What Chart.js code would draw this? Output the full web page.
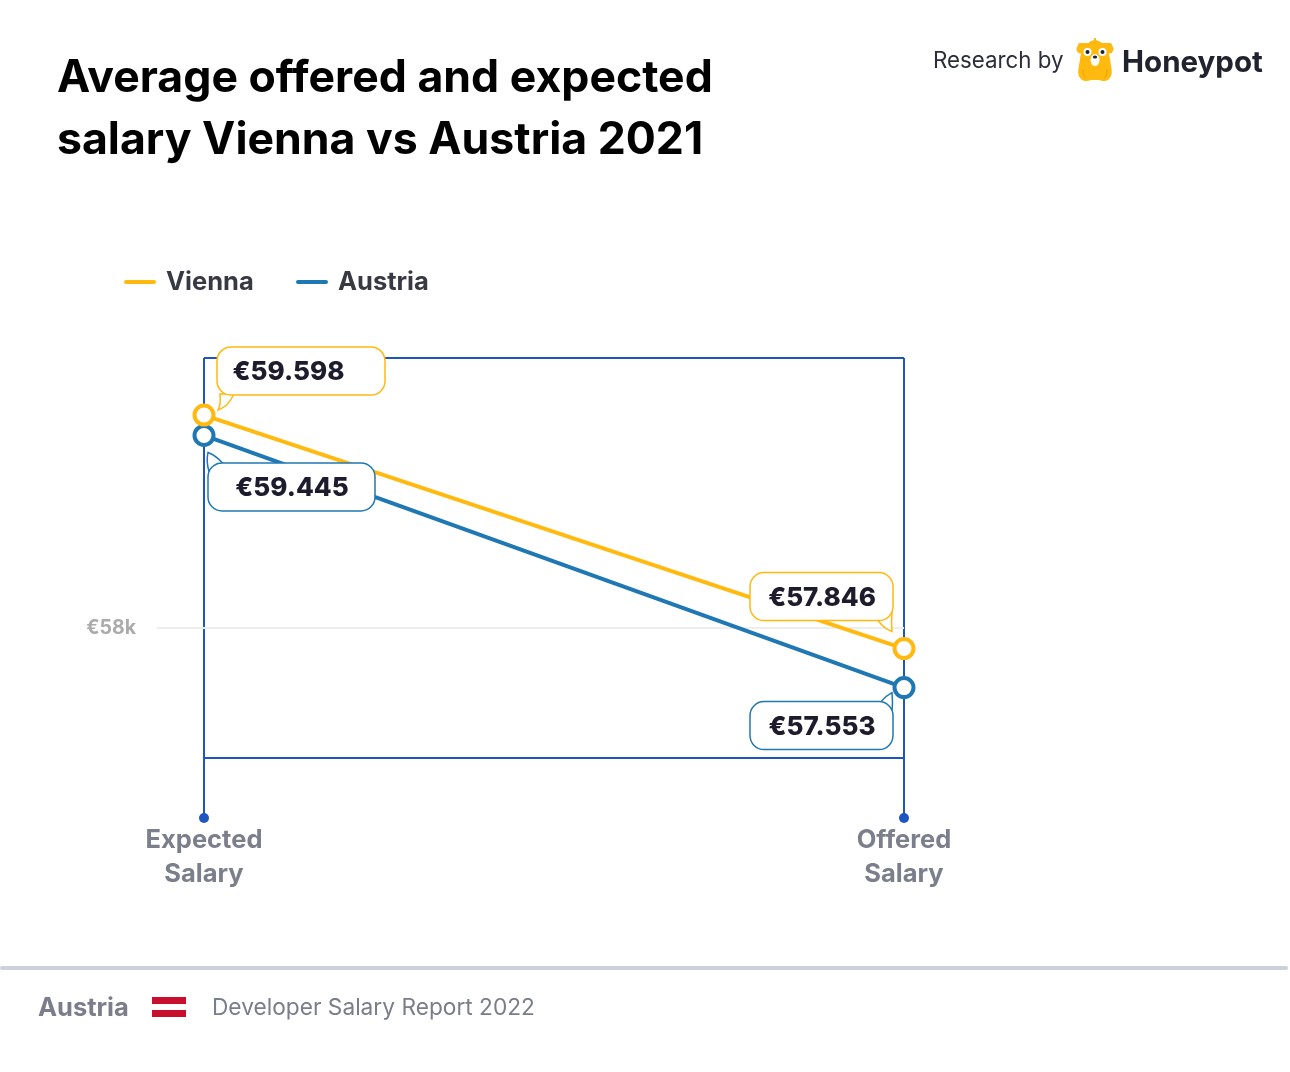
<!DOCTYPE html>
<html>
<head>
<meta charset="utf-8">
<title>Average offered and expected salary Vienna vs Austria 2021</title>
<script src="https://cdn.jsdelivr.net/npm/chart.js@4"></script>
<style>
  html, body { margin: 0; padding: 0; background: #fff; overflow: hidden; }
  body { width: 1290px; height: 1072px; position: relative; font-family: Inter, sans-serif; }
  #priceChart { position: absolute; left: 0; top: 0; }
  .abs { position: absolute; white-space: nowrap; }
  #title { left: 57px; top: 45px; font: 700 44.6px/62px Inter, sans-serif; color: #000; }
  #research { left: 933px; top: 45px; font: 400 22.3px/30px Inter, sans-serif; color: #2b2d38; }
  #brand { left: 1122px; top: 41px; font: 700 29.5px/40px Inter, sans-serif; color: #20222e; }
  #bear { left: 1076px; top: 37px; }
  .legend-line { position: absolute; top: 280px; width: 32px; height: 4px; border-radius: 2px; }
  .legend-text { position: absolute; top: 264px; font: 700 25.5px/34px Inter, sans-serif; color: #373a42; }
  #rule { left: 0; top: 966px; width: 1288px; height: 4px; background: #ccd1dc; border-radius: 2px; }
  #country { left: 38px; top: 990px; font: 700 25.5px/34px Inter, sans-serif; color: #7a7d8a; }
  #flag { left: 152px; top: 997px; width: 34px; height: 20px; background: linear-gradient(#c8102e 0 7px, #fff 7px 13px, #c8102e 13px 20px); }
  #report { left: 212px; top: 992px; font: 400 22.7px/30px Inter, sans-serif; color: #7a7d8a; }
</style>
</head>
<body>
<canvas id="priceChart" width="1290" height="1072"></canvas>

<div class="abs" id="title">Average offered and expected<br>salary Vienna vs Austria 2021</div>
<div class="abs" id="research">Research by</div>
<svg class="abs" id="bear" width="38" height="46" viewBox="0 0 38 46">
  <path d="M18 1 h2 v2 l5 2 v2 h-12 v-2 l5 -2 z" fill="#ffb90f"/>
  <rect x="2" y="6" width="34" height="4" rx="2" fill="#ffb90f"/>
  <circle cx="5" cy="12" r="4.5" fill="#ffb90f"/>
  <circle cx="33" cy="12" r="4.5" fill="#ffb90f"/>
  <path d="M19 7 C29 7 33 13 34 22 C35 31 38 37 33 42 C30 45 26 44 23 43 H15 C12 44 8 45 5 42 C0 37 3 31 4 22 C5 13 9 7 19 7 Z" fill="#ffb90f"/>
  <circle cx="11.5" cy="15" r="4" fill="#fff"/>
  <circle cx="26.5" cy="15" r="4" fill="#fff"/>
  <circle cx="11.5" cy="15" r="2" fill="#20222e"/>
  <circle cx="26.5" cy="15" r="2" fill="#20222e"/>
  <ellipse cx="19" cy="23" rx="4.5" ry="6" fill="#fff"/>
  <ellipse cx="19" cy="20" rx="2.2" ry="1.5" fill="#20222e"/>
  <path d="M7 32 C7 37 8 40 10 41 M31 32 C31 37 30 40 28 41" fill="none" stroke="#f0a400" stroke-width="1"/>
</svg>
<div class="abs" id="brand">Honeypot</div>

<div id="legend"></div>

<div class="abs" id="rule"></div>
<div class="abs" id="country">Austria</div>
<div class="abs" id="flag"></div>
<div class="abs" id="report">Developer Salary Report 2022</div>

<script>
// Chart data
const categories = [['Expected', 'Salary'], ['Offered', 'Salary']];
const seriesNames = ['Vienna', 'Austria'];
const viennaValues = [59598, 57846];
const austriaValues = [59445, 57553];
const viennaLabels = ['€59.598', '€57.846'];
const austriaLabels = ['€59.445', '€57.553'];
const tickValues = [58000];
const tickLabels = ['€58k'];
const axisMin = 57025;
const axisMax = 60026;

const YELLOW = '#ffb90f';
const BLUE = '#1f78b4';
const FRAME = '#1f55c0';

// Legend above the chart
const legend = document.getElementById('legend');
[[124, 166, YELLOW], [296, 338, BLUE]].forEach((item, i) => {
    legend.innerHTML += `
        <div class="legend-line" style="left:${item[0]}px;background:${item[2]}"></div>
        <div class="legend-text" style="left:${item[1]}px">${seriesNames[i]}</div>
    `;
});

// Callout boxes, placed relative to their point
// dx, dy = top left of the box from the point, tail = start, control, tip, control, end
const calloutStyle = [
    [
        { dx: 13, dy: -68, w: 168, textX: 71.5, tail: [[16, -21], [17, -10], [14, -5], [24, -8], [30, -21]] },
        { dx: -154, dy: -76, w: 143, textX: 72, tail: [[-26, -28], [-20, -20], [-12, -17], [-13, -26], [-12, -36]] }
    ],
    [
        { dx: 4, dy: 27.5, w: 167, textX: 84, tail: [[5, 36], [2, 26], [4, 17], [12, 20], [19, 28]] },
        { dx: -154, dy: 14, w: 143, textX: 72, tail: [[-23, 14], [-18, 8], [-12, 5], [-11, 14], [-12, 24]] }
    ]
];

const calloutPlugin = {
    id: 'callouts',
    afterDatasetsDraw(chart) {
        const ctx = chart.ctx;
        const allLabels = [viennaLabels, austriaLabels];
        ctx.save();
        allLabels.forEach((labels, s) => {
            const color = chart.data.datasets[s].borderColor;
            chart.getDatasetMeta(s).data.forEach((pt, i) => {
                const st = calloutStyle[s][i];
                const x = pt.x + st.dx;
                const y = pt.y + st.dy;
                const t = st.tail.map(p => [pt.x + p[0], pt.y + p[1]]);
                ctx.lineWidth = 1.5;
                ctx.strokeStyle = color;
                ctx.fillStyle = '#fff';
                // tail
                ctx.beginPath();
                ctx.moveTo(t[0][0], t[0][1]);
                ctx.quadraticCurveTo(t[1][0], t[1][1], t[2][0], t[2][1]);
                ctx.quadraticCurveTo(t[3][0], t[3][1], t[4][0], t[4][1]);
                ctx.closePath();
                ctx.fill();
                ctx.stroke();
                // box
                ctx.beginPath();
                ctx.roundRect(x, y, st.w, 48, 14);
                ctx.fill();
                ctx.stroke();
                // text
                ctx.fillStyle = '#1c1c2c';
                ctx.font = '800 26px Inter, sans-serif';
                ctx.textAlign = 'center';
                ctx.textBaseline = 'middle';
                ctx.fillText(labels[i], x + st.textX, y + 25.5);
            });
        });
        ctx.restore();
    }
};

// Dots at the bottom of the two vertical lines
const footDotPlugin = {
    id: 'footDots',
    afterDraw(chart) {
        const ctx = chart.ctx;
        const xScale = chart.scales.x;
        ctx.save();
        ctx.fillStyle = FRAME;
        categories.forEach((c, i) => {
            ctx.beginPath();
            ctx.arc(xScale.getPixelForTick(i), chart.chartArea.bottom + 60, 5, 0, Math.PI * 2);
            ctx.fill();
        });
        ctx.restore();
    }
};

const ctx = document.getElementById('priceChart').getContext('2d');
const salaryChart = new Chart(ctx, {
    type: 'line',
    data: {
        labels: categories,
        datasets: [
            { label: seriesNames[0], data: viennaValues, borderColor: YELLOW, pointBorderColor: YELLOW },
            { label: seriesNames[1], data: austriaValues, borderColor: BLUE, pointBorderColor: BLUE }
        ].map(d => ({
            ...d,
            borderWidth: 4,
            tension: 0,
            clip: false,
            pointRadius: 9.5,
            pointBorderWidth: 4,
            pointBackgroundColor: '#fff'
        }))
    },
    options: {
        responsive: false,
        animation: false,
        layout: { padding: { top: 358, right: 386, bottom: 0, left: 0 } },
        plugins: { legend: { display: false }, title: { display: false }, tooltip: { enabled: false } },
        scales: {
            x: {
                offset: false,
                afterFit: scale => { scale.height = 314; },
                border: { color: FRAME, width: 2 },
                grid: { color: FRAME, lineWidth: 2, tickLength: 60, drawTicks: true },
                ticks: {
                    padding: 5,
                    maxRotation: 0,
                    color: '#7b7e8b',
                    font: { family: 'Inter, sans-serif', size: 25.5, weight: '700', lineHeight: 1.333 }
                }
            },
            y: {
                min: axisMin,
                max: axisMax,
                afterFit: scale => { scale.width = 204; },
                afterBuildTicks: scale => {
                    scale.ticks = [axisMin, ...tickValues, axisMax].map(v => ({ value: v }));
                },
                border: { display: false },
                grid: {
                    lineWidth: 2,
                    color: c => (tickValues.includes(c.tick.value) ? '#eeeeee' : FRAME),
                    tickColor: c => (tickValues.includes(c.tick.value) ? '#eeeeee' : 'transparent'),
                    tickLength: 47
                },
                ticks: {
                    padding: 21,
                    autoSkip: false,
                    color: '#ababab',
                    font: { family: 'Inter, sans-serif', size: 19.5, weight: '700' },
                    callback: v => {
                        const i = tickValues.indexOf(v);
                        return i >= 0 ? tickLabels[i] : '';
                    }
                }
            }
        }
    },
    plugins: [calloutPlugin, footDotPlugin]
});
</script>
</body>
</html>
